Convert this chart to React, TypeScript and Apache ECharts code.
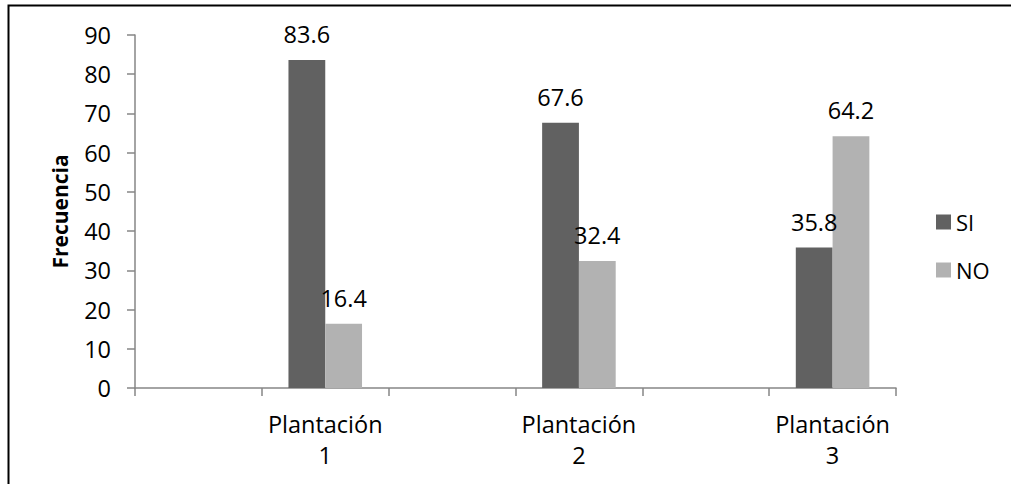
import React, { useEffect, useRef } from "react";
import * as echarts from "echarts";

const categories = ["", "Plantación\n1", "", "Plantación\n2", "", "Plantación\n3"];
const siValues = [null, 83.6, null, 67.6, null, 35.8];
const noValues = [null, 16.4, null, 32.4, null, 64.2];
const seriesNames = ["SI", "NO"];
const yAxisTitle = "Frecuencia";

const FONT = "'Open Sans', sans-serif";

export default function App() {
  const ref = useRef<HTMLDivElement>(null);
  useEffect(() => {
    if (!ref.current) return;
    const chart = echarts.init(ref.current, null, { renderer: "svg" });
    const labelCfg = {
      show: true,
      position: "top",
      distance: 14,
      color: "#000",
      fontFamily: FONT,
      fontSize: 23.5,
      lineHeight: 23.5,
    };
    chart.setOption({
      animation: false,
      backgroundColor: "#fff",
      textStyle: { fontFamily: FONT },
      graphic: [
        {
          type: "rect",
          shape: { x: 8.5, y: 5.5, width: 1200, height: 700 },
          style: { fill: "none", stroke: "#000", lineWidth: 2 },
          silent: true,
        },
      ],
      grid: { left: 135, top: 35, width: 761, height: 353, containLabel: false },
      legend: {
        orient: "vertical",
        left: 936,
        top: 210,
        padding: 0,
        itemWidth: 15,
        itemHeight: 15,
        itemGap: 24,
        icon: "rect",
        data: seriesNames,
        textStyle: { color: "#000", fontFamily: FONT, fontSize: 22, lineHeight: 24 },
      },
      xAxis: {
        type: "category",
        data: categories,
        axisLine: { lineStyle: { color: "#868686", width: 1.5 } },
        axisTick: { show: true, length: 8, interval: 0, lineStyle: { color: "#868686", width: 1.5 } },
        axisLabel: {
          interval: 0,
          margin: 20,
          color: "#000",
          fontFamily: FONT,
          fontSize: 23.5,
          lineHeight: 31,
        },
      },
      yAxis: {
        type: "value",
        min: 0,
        max: 90,
        interval: 10,
        name: yAxisTitle,
        nameLocation: "middle",
        nameGap: 65,
        nameTextStyle: { color: "#000", fontFamily: FONT, fontSize: 21, fontWeight: "bold" },
        axisLine: { show: true, lineStyle: { color: "#868686", width: 1.5 } },
        axisTick: { show: true, length: 8, lineStyle: { color: "#868686", width: 1.5 } },
        splitLine: { show: false },
        axisLabel: { margin: 24, color: "#000", fontFamily: FONT, fontSize: 23.5 },
      },
      series: [
        {
          name: seriesNames[0],
          type: "bar",
          data: siValues,
          barGap: "0%",
          barCategoryGap: "42%",
          itemStyle: { color: "#616161" },
          label: labelCfg,
        },
        {
          name: seriesNames[1],
          type: "bar",
          data: noValues,
          barGap: "0%",
          barCategoryGap: "42%",
          itemStyle: { color: "#b2b2b2" },
          label: labelCfg,
        },
      ],
    });
    return () => chart.dispose();
  }, []);
  return (
    <div
      ref={ref}
      style={{ position: "fixed", left: 0, top: 0, width: 1011, height: 484 }}
    />
  );
}
